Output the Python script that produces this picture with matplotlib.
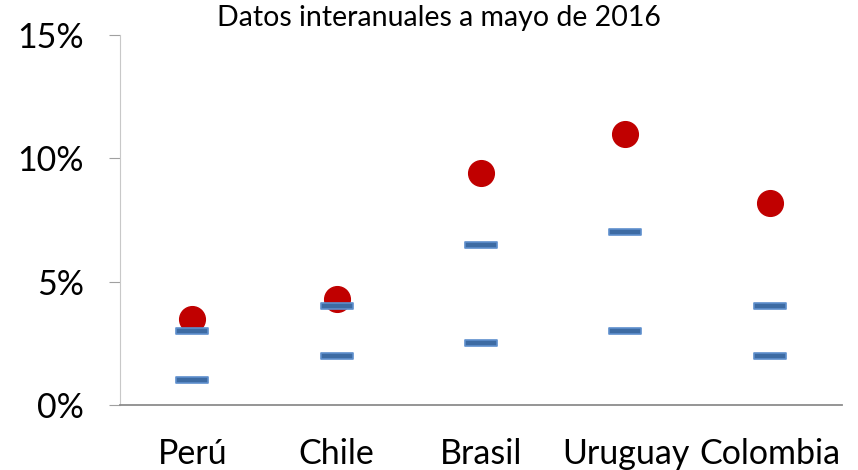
import matplotlib
matplotlib.use("Agg")
import matplotlib.pyplot as plt
import numpy as np
from matplotlib.path import Path
from matplotlib.ticker import FuncFormatter

countries = ["Perú", "Chile", "Brasil", "Uruguay", "Colombia"]
inflation = [3.5, 4.3, 9.4, 11.0, 8.2]
target_low = [1.0, 2.0, 2.5, 3.0, 2.0]
target_high = [3.0, 4.0, 6.5, 7.0, 4.0]

plt.rcParams["font.family"] = ["Lato", "DejaVu Sans"]

fig = plt.figure(figsize=(8.58, 4.70), dpi=100)
ax = fig.add_axes([0.1399, 0.1383, 0.8415, 0.7872])

x = np.arange(len(countries))

# rectangular dash marker (wide, thin)
dash = Path([(-1, -0.19), (1, -0.19), (1, 0.19), (-1, 0.19), (-1, -0.19)],
            [Path.MOVETO, Path.LINETO, Path.LINETO, Path.LINETO, Path.CLOSEPOLY])
for vals in (target_low, target_high):
    ax.plot(x, vals, linestyle="none", marker=dash, markersize=23,
            markerfacecolor="#3D6BA3", markeredgecolor="#5E8FCD",
            markeredgewidth=1.2, zorder=3)

ax.plot(x, inflation, linestyle="none", marker="o", markersize=18.5,
        markerfacecolor="#C00000", markeredgecolor="#C00000", zorder=2)

ax.set_xlim(-0.5, len(countries) - 0.5)
ax.set_ylim(0, 15)
ax.set_yticks([0, 5, 10, 15])
ax.yaxis.set_major_formatter(FuncFormatter(lambda v, p: f"{v:.0f}%"))
ax.set_xticks(x)
ax.set_xticklabels(countries)

ax.spines["top"].set_visible(False)
ax.spines["right"].set_visible(False)
ax.spines["left"].set_color("#C8C8C8")
ax.spines["left"].set_linestyle((0, (2, 1)))
ax.spines["left"].set_linewidth(0.8)
ax.spines["bottom"].set_color("#8C8C8C")
ax.spines["bottom"].set_linewidth(1.3)

ax.tick_params(axis="y", length=8, width=0.8, color="#A0A0A0",
               labelsize=24.5, pad=18, labelcolor="black")
ax.tick_params(axis="x", length=0, labelsize=24.5, pad=24, labelcolor="black")

fig.text(0.511, 0.962, "Datos interanuales a mayo de 2016", ha="center",
         va="center", fontsize=20.5, color="black")

fig.savefig("out.png", dpi=100)
